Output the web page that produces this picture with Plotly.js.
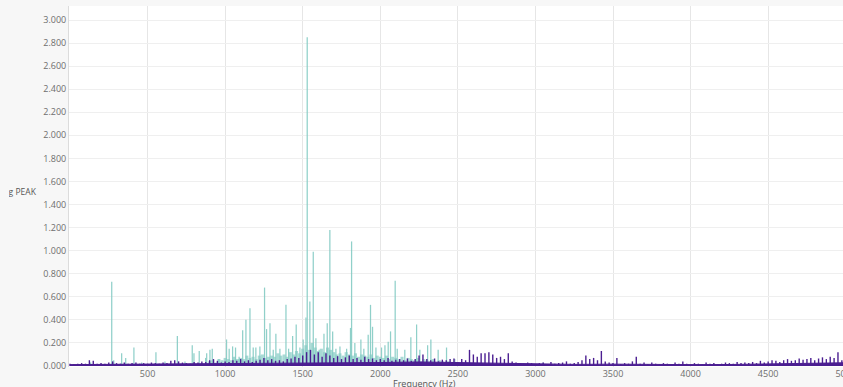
<!DOCTYPE html>
<html>
<head>
<meta charset="utf-8">
<script src="https://cdn.plot.ly/plotly-3.0.1.min.js"></script>
<style>
  html, body { margin: 0; padding: 0; width: 843px; height: 387px; overflow: hidden; background: #f7f7f7; }
  /* viewport frame: the chart is clipped 9px in from the left edge */
  #frame { position: absolute; left: 9px; top: 0; width: 834px; height: 387px; overflow: hidden; }
  #chart { width: 900px; height: 400px; margin-left: -9px; }
</style>
</head>
<body>
<div id="frame"><div id="chart"></div></div>
<script>
// Peak spectrum (PEAK amplitude per frequency)
// Sharp teal peaks: frequency (Hz) and amplitude
const peakFreq = [
  133, 269, 282, 333, 359, 412, 462, 554, 612, 692, 741, 788, 799, 833, 874, 881, 902, 917, 960,
  1009, 1026, 1048, 1067, 1090, 1113, 1134, 1160, 1181, 1198, 1224, 1254, 1267, 1289, 1310, 1327,
  1353, 1392, 1409, 1435, 1458, 1482, 1503, 1521, 1529, 1546, 1568, 1585, 1606, 1637, 1658, 1675,
  1693, 1714, 1740, 1783, 1808, 1815, 1836, 1875, 1894, 1922, 1937, 1950, 1972, 2008, 2030, 2051,
  2066, 2096, 2109, 2158, 2197, 2234, 2255, 2305, 2326, 2373, 2427, 2480, 3050, 4990
];
const peakAmp = [
  0.03, 0.73, 0.05, 0.11, 0.07, 0.16, 0.03, 0.12, 0.04, 0.26, 0.04, 0.18, 0.11, 0.13, 0.07, 0.11, 0.14, 0.15, 0.06,
  0.23, 0.15, 0.17, 0.16, 0.08, 0.31, 0.40, 0.50, 0.16, 0.16, 0.17, 0.68, 0.32, 0.37, 0.14, 0.28,
  0.15, 0.53, 0.15, 0.26, 0.36, 0.16, 0.23, 0.42, 2.85, 0.56, 0.99, 0.24, 0.14, 0.28, 0.37, 1.18,
  0.30, 0.15, 0.17, 0.15, 0.33, 1.08, 0.20, 0.23, 0.15, 0.27, 0.53, 0.34, 0.16, 0.16, 0.18, 0.21,
  0.30, 0.74, 0.15, 0.14, 0.25, 0.36, 0.14, 0.18, 0.23, 0.14, 0.16, 0.06, 0.03, 0.06
];

// Teal broadband floor, 900 Hz onward in 20 Hz steps
const floorStart = 900;
const floorStep = 20;
const floorAmp = [
  0.04, 0.05, 0.03, 0.06, 0.05, 0.07, 0.06, 0.05, 0.08, 0.06,
  0.07, 0.06, 0.09, 0.07, 0.08, 0.06, 0.09, 0.10, 0.07, 0.08,
  0.09, 0.08, 0.11, 0.09, 0.10, 0.08, 0.12, 0.10, 0.13, 0.11,
  0.15, 0.18, 0.14, 0.20, 0.16, 0.13, 0.15, 0.12, 0.16, 0.14,
  0.12, 0.10, 0.11, 0.09, 0.12, 0.10, 0.09, 0.11, 0.08, 0.10,
  0.09, 0.08, 0.10, 0.07, 0.09, 0.08, 0.07, 0.09, 0.06, 0.08,
  0.07, 0.06, 0.08, 0.05, 0.07, 0.06, 0.05, 0.07, 0.04, 0.06,
  0.05, 0.04, 0.06, 0.03, 0.05, 0.04, 0.03, 0.04, 0.03, 0.02,
  0.03, 0.02, 0.02, 0.03, 0.02
];

// Purple reference spectrum, 0–5000 Hz in 25 Hz steps
const refStart = 0;
const refStep = 25;
const refAmp = [
  0.020, 0.015, 0.020, 0.025, 0.020, 0.050, 0.045, 0.020, 0.025, 0.020, 0.030, 0.040, 0.025, 0.020, 0.030, 0.020, 0.025, 0.030, 0.020, 0.025,
  0.020, 0.030, 0.025, 0.020, 0.030, 0.025, 0.045, 0.050, 0.040, 0.030, 0.025, 0.020, 0.035, 0.030, 0.040, 0.035, 0.050, 0.060, 0.045, 0.030,
  0.040, 0.035, 0.050, 0.045, 0.060, 0.040, 0.050, 0.035, 0.045, 0.055, 0.070, 0.050, 0.060, 0.045, 0.050, 0.040, 0.060, 0.065, 0.080, 0.070,
  0.090, 0.120, 0.140, 0.100, 0.120, 0.080, 0.110, 0.090, 0.070, 0.085, 0.060, 0.075, 0.090, 0.060, 0.070, 0.055, 0.080, 0.060, 0.065, 0.050,
  0.060, 0.050, 0.070, 0.045, 0.055, 0.060, 0.050, 0.065, 0.045, 0.060, 0.090, 0.100, 0.060, 0.050, 0.065, 0.040, 0.055, 0.050, 0.060, 0.065,
  0.030, 0.060, 0.050, 0.140, 0.100, 0.080, 0.110, 0.110, 0.120, 0.100, 0.070, 0.080, 0.060, 0.110, 0.040, 0.030, 0.025, 0.020, 0.030, 0.025,
  0.015, 0.025, 0.030, 0.015, 0.035, 0.020, 0.025, 0.030, 0.040, 0.020, 0.025, 0.035, 0.050, 0.090, 0.060, 0.070, 0.050, 0.130, 0.040, 0.030,
  0.025, 0.070, 0.015, 0.025, 0.020, 0.040, 0.080, 0.020, 0.030, 0.015, 0.030, 0.020, 0.015, 0.025, 0.020, 0.015, 0.030, 0.020, 0.040, 0.020,
  0.015, 0.025, 0.020, 0.015, 0.030, 0.020, 0.025, 0.015, 0.020, 0.030, 0.025, 0.020, 0.035, 0.025, 0.030, 0.025, 0.035, 0.025, 0.045, 0.030,
  0.040, 0.050, 0.045, 0.035, 0.050, 0.060, 0.045, 0.050, 0.065, 0.055, 0.060, 0.070, 0.050, 0.065, 0.075, 0.060, 0.080, 0.070, 0.120, 0.050,
  0.060
];

// Purple continuous floor under the reference spectrum, 250 Hz steps
const refFloorStart = 0;
const refFloorStep = 250;
const refFloorAmp = [
  0.012, 0.014, 0.012, 0.015, 0.018, 0.020, 0.022, 0.025, 0.030, 0.035, 0.030,
  0.025, 0.022, 0.014, 0.016, 0.012, 0.012, 0.013, 0.016, 0.022, 0.028
];

// Axis ticks
const xTicks = [500, 1000, 1500, 2000, 2500, 3000, 3500, 4000, 4500, 5000];
const yTicks = [0, 0.2, 0.4, 0.6, 0.8, 1.0, 1.2, 1.4, 1.6, 1.8, 2.0, 2.2, 2.4, 2.6, 2.8, 3.0];

const teal = '#84cbc4';
const purple = '#4b1e91';
const tickFont = { family: 'Open Sans, sans-serif', size: 9, color: '#6e6e6e' };

const traces = [
  {
    type: 'bar', x0: floorStart, dx: floorStep, y: floorAmp, width: floorStep,
    marker: { color: teal, line: { width: 0 } }, opacity: 0.7, hoverinfo: 'skip'
  },
  {
    type: 'bar', x: peakFreq, y: peakAmp, width: 8,
    marker: { color: teal, line: { width: 0 } }, opacity: 0.9
  },
  {
    type: 'scatter', mode: 'lines', x0: refFloorStart, dx: refFloorStep, y: refFloorAmp,
    line: { color: purple, width: 1 }, fill: 'tozeroy', fillcolor: purple, hoverinfo: 'skip'
  },
  {
    type: 'bar', x0: refStart, dx: refStep, y: refAmp, width: 9,
    marker: { color: purple, line: { width: 0 } }
  }
];

const layout = {
  width: 900,
  height: 400,
  margin: { l: 69, r: 31, t: 6, b: 33 },
  paper_bgcolor: '#f7f7f7',
  plot_bgcolor: '#ffffff',
  showlegend: false,
  barmode: 'overlay',
  font: tickFont,
  xaxis: {
    range: [-6.4, 5150],
    tickmode: 'array',
    tickvals: xTicks,
    ticktext: xTicks.map(String),
    showgrid: true,
    gridcolor: '#e6e6e6',
    gridwidth: 1,
    zeroline: false,
    showline: false,
    ticks: '',
    tickfont: tickFont
  },
  yaxis: {
    range: [-0.0087, 3.1214],
    tickmode: 'array',
    tickvals: yTicks,
    ticktext: yTicks.map(v => v.toFixed(3)),
    showgrid: true,
    gridcolor: '#efefef',
    gridwidth: 1,
    zeroline: false,
    showline: true,
    linecolor: '#dcdcdc',
    linewidth: 1,
    ticks: '',
    tickfont: tickFont
  },
  annotations: [
    {
      text: 'Avg PEAK', showarrow: false,
      xref: 'paper', yref: 'paper', x: 0, y: 0.485,
      xanchor: 'right', yanchor: 'middle', xshift: -30,
      font: { family: 'Open Sans, sans-serif', size: 8.5, color: '#555555' }
    },
    {
      text: 'Frequency (Hz)', showarrow: false,
      xref: 'paper', yref: 'paper', x: 0, y: 0,
      xanchor: 'center', yanchor: 'top', xshift: 355, yshift: -8,
      font: { family: 'Open Sans, sans-serif', size: 9, color: '#555555' }
    }
  ]
};

Plotly.newPlot('chart', traces, layout, { staticPlot: true, displayModeBar: false });
</script>
</body>
</html>
